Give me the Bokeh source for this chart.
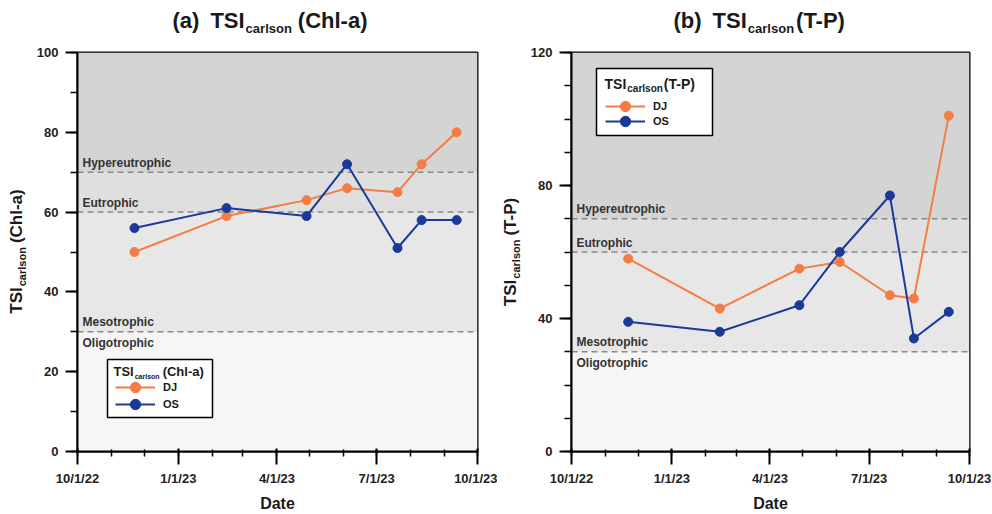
from math import pi
import pandas as pd
from bokeh.plotting import figure
from bokeh.layouts import row, column
from bokeh.models import (Range1d, FixedTicker, Span, BoxAnnotation, Label,
                          Legend, LegendItem)
from bokeh.embed import file_html
from bokeh.resources import INLINE

# ---------------- data ----------------
dates = ["2022-11-22", "2023-02-14", "2023-04-28", "2023-06-04",
         "2023-07-20", "2023-08-11", "2023-09-12"]
chla_dj = [50, 59, 63, 66, 65, 72, 80]
chla_os = [56, 61, 59, 72, 51, 58, 58]
tp_dj = [58, 43, 55, 57, 47, 46, 101]
tp_os = [39, 36, 44, 60, 77, 34, 42]

x_tick_dates = ["2022-10-01", "2023-01-01", "2023-04-01", "2023-07-01", "2023-10-01"]
x_tick_labels = ["10/1/22", "1/1/23", "4/1/23", "7/1/23", "10/1/23"]
chla_ticks = [0, 20, 40, 60, 80, 100]
tp_ticks = [0, 40, 80, 120]
thresholds = [30, 60, 70]
series_names = ["DJ", "OS"]
state_names = ["Oligotrophic", "Mesotrophic", "Eutrophic", "Hypereutrophic"]

# ---------------- style ----------------
FONT = "Liberation Sans"
DJ_COLOR = "#f57c45"
OS_COLOR = "#1a3a9a"
TXT = "#1a1a1a"
BASE_FIX = 0.37   # baseline correction (fraction of font size)

AW = {'(': 0.333, ')': 0.333, 'a': 0.556, 'b': 0.611, 'T': 0.611, 'S': 0.667,
      'I': 0.278, ' ': 0.278, 'c': 0.556, 'r': 0.389, 'l': 0.278, 's': 0.556,
      'o': 0.611, 'n': 0.611, 'C': 0.722, 'h': 0.611, '-': 0.333, 'P': 0.667}


def tw(s, size):
    return sum(AW.get(ch, 0.6) for ch in s) * size


def add_text(p, x, y, text, size, angle=0.0, color=TXT, align="left",
             baseline="alphabetic", x_units="screen", y_units="screen", y_offset=0):
    p.add_layout(Label(x=x, y=y, x_units=x_units, y_units=y_units, text=text,
                       text_font=FONT, text_font_size=f"{size}px",
                       text_font_style="bold", text_color=color, angle=angle,
                       text_align=align, text_baseline=baseline, y_offset=y_offset))


def composite(p, x, y, parts, vertical=False):
    """parts: (text, size, drop below main baseline, gap before)"""
    pos = 0.0
    for text, size, drop, gap in parts:
        pos += gap
        fix = BASE_FIX * size
        if vertical:
            add_text(p, x + drop - fix, y + pos, text, size, angle=pi / 2)
        else:
            add_text(p, x + pos, y - drop + fix, text, size)
        pos += tw(text, size)
    return pos


def blank_fig(w, h):
    f = figure(width=w, height=h, output_backend="svg", toolbar_location=None,
               x_axis_location=None, y_axis_location=None, min_border=0,
               x_range=Range1d(0, w), y_range=Range1d(0, h))
    f.grid.visible = False
    f.outline_line_color = None
    f.background_fill_color = "white"
    return f


x_dt = pd.to_datetime(dates)
tick_ms = [int(pd.Timestamp(d).value // 10**6) for d in x_tick_dates]
minor_ms = [int(t.value // 10**6) for t in pd.date_range(x_tick_dates[0], x_tick_dates[-1], freq="MS")]

TITLE_H = 40
YLAB_W = 30


def make_panel(letter, what, dj, os_, ymax, yticks, total_w, frame_left,
               title_x, ylab_x, leg_box, leg_x, leg_rows, head_xy, head_sizes, sub_gap):
    p = figure(width=total_w - YLAB_W, height=514 - TITLE_H, x_axis_type="datetime",
               output_backend="svg", toolbar_location=None,
               x_range=Range1d(pd.Timestamp(x_tick_dates[0]), pd.Timestamp(x_tick_dates[-1])),
               y_range=Range1d(0, ymax),
               min_border_left=frame_left - YLAB_W,
               min_border_right=total_w - frame_left - 400,
               min_border_top=52 - TITLE_H, min_border_bottom=62)
    p.grid.visible = False
    p.background_fill_color = "white"
    p.outline_line_color = "black"
    p.outline_line_width = 2

    # background bands
    p.add_layout(BoxAnnotation(top=thresholds[0], fill_color="#f6f6f6", fill_alpha=1,
                               line_alpha=0, level="underlay"))
    p.add_layout(BoxAnnotation(bottom=thresholds[0], top=thresholds[1], fill_color="#e7e7e7",
                               fill_alpha=1, line_alpha=0, level="underlay"))
    p.add_layout(BoxAnnotation(bottom=thresholds[1], top=thresholds[2], fill_color="#dfdfdf",
                               fill_alpha=1, line_alpha=0, level="underlay"))
    p.add_layout(BoxAnnotation(bottom=thresholds[2], fill_color="#d4d4d4", fill_alpha=1,
                               line_alpha=0, level="underlay"))
    for t in thresholds:
        p.add_layout(Span(location=t, dimension="width", line_color="#8a8a8a",
                          line_width=1.5, line_dash="6 4", level="underlay"))
    # state labels
    up = 5 + BASE_FIX * 12
    add_text(p, 5, thresholds[0], state_names[0], 12, color="#333333",
             baseline="top", y_units="data", y_offset=-4)
    add_text(p, 5, thresholds[0], state_names[1], 12, color="#333333",
             y_units="data", y_offset=up)
    add_text(p, 5, thresholds[1], state_names[2], 12, color="#333333",
             y_units="data", y_offset=up)
    add_text(p, 5, thresholds[2], state_names[3], 12, color="#333333",
             y_units="data", y_offset=up)

    # data
    l1 = p.line(x_dt, dj, line_color=DJ_COLOR, line_width=2)
    s1 = p.scatter(x_dt, dj, size=9, fill_color=DJ_COLOR, line_color=DJ_COLOR)
    l2 = p.line(x_dt, os_, line_color=OS_COLOR, line_width=2)
    s2 = p.scatter(x_dt, os_, size=9, fill_color=OS_COLOR, line_color=OS_COLOR)

    # legend box + one legend per entry
    bl, br, bb, bt = leg_box
    p.add_layout(BoxAnnotation(left=bl, right=br, bottom=bb, top=bt,
                               left_units="screen", right_units="screen",
                               bottom_units="screen", top_units="screen",
                               fill_color="white", fill_alpha=1,
                               line_color="black", line_width=1.5, line_alpha=1))
    GH = 26
    for name, rends, yc in zip(series_names, [[l1, s1], [l2, s2]], leg_rows):
        lg = Legend(items=[LegendItem(label=name, renderers=rends)],
                    location=(leg_x, yc - GH / 2), orientation="vertical",
                    padding=0, margin=0, spacing=0, glyph_height=GH, glyph_width=40,
                    label_height=GH, label_standoff=8, label_text_font=FONT,
                    label_text_font_size="11px", label_text_font_style="bold",
                    label_text_color=TXT, background_fill_alpha=0, border_line_alpha=0)
        p.add_layout(lg)
    hm, hs = head_sizes
    composite(p, head_xy[0], head_xy[1],
              [("TSI", hm, 0, 0), ("carlson", hs, 3, 1), (f"({what})", hm, 0, sub_gap)])

    # axes
    xa = p.xaxis[0]
    xa.ticker = FixedTicker(ticks=tick_ms, minor_ticks=minor_ms)
    xa.major_label_overrides = {t: lab for t, lab in zip(tick_ms, x_tick_labels)}
    xa.axis_label = "Date"
    ya = p.yaxis[0]
    ya.ticker = FixedTicker(ticks=yticks, minor_ticks=list(range(0, ymax + 1, 10)))
    for ax in (xa, ya):
        ax.axis_line_width = 2
        ax.axis_line_color = "black"
        ax.major_tick_line_width = 2
        ax.minor_tick_line_width = 1.5
        ax.major_tick_line_color = "black"
        ax.minor_tick_line_color = "black"
        ax.major_label_text_font = FONT
        ax.major_label_text_font_size = "13px"
        ax.major_label_text_font_style = "bold"
        ax.major_label_text_color = "#222222"
    xa.major_tick_out = 13
    xa.major_tick_in = 3
    xa.minor_tick_out = 5
    xa.minor_tick_in = 2
    xa.major_label_standoff = 6
    xa.axis_label_text_font = FONT
    xa.axis_label_text_font_size = "16px"
    xa.axis_label_text_font_style = "bold"
    xa.axis_label_text_color = TXT
    xa.axis_label_standoff = 6
    ya.major_tick_out = 12
    ya.major_tick_in = 0
    ya.minor_tick_out = 7
    ya.minor_tick_in = 0
    ya.major_label_standoff = 7

    # title strip
    t = blank_fig(total_w, TITLE_H)
    composite(t, title_x, TITLE_H - 28,
              [(f"({letter})", 22, 0, 0), ("TSI", 22, 0, 11), ("carlson", 13, 5, 1),
               (f"({what})", 22, 0, sub_gap * 2)])

    # y-label strip (rotated composite); its frame is aligned with the main frame
    yl = blank_fig(YLAB_W, 514 - TITLE_H)
    parts = [("TSI", 17, 0, 0), ("carlson", 11, 4, 1), (f"({what})", 17, 0, 4)]
    total = sum(tw(tx, s) + g for tx, s, _, g in parts)
    composite(yl, ylab_x, 200 - total / 2, parts, vertical=True)

    return column(t, row(yl, p))


left = make_panel("a", "Chl-a", chla_dj, chla_os, 100, chla_ticks, 497, 77,
                  title_x=172, ylab_x=22, leg_box=(30, 135, 34, 92), leg_x=38,
                  leg_rows=(64, 47), head_xy=(36, 75), head_sizes=(13, 7), sub_gap=3)
right = make_panel("b", "T-P", tp_dj, tp_os, 120, tp_ticks, 495, 72,
                   title_x=176, ylab_x=19, leg_box=(25, 141, 316, 383), leg_x=34,
                   leg_rows=(345, 330), head_xy=(33, 362), head_sizes=(14, 10), sub_gap=1)

layout = row(left, right)
open("out.html", "w").write(file_html(layout, INLINE))
